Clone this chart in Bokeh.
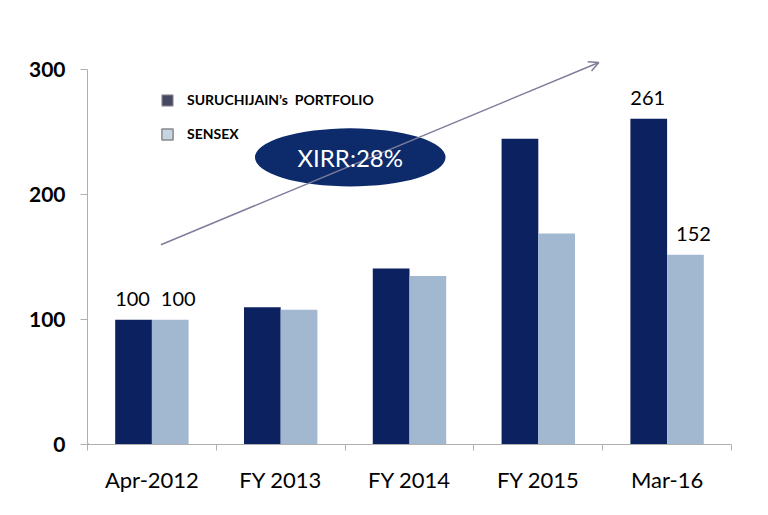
from bokeh.plotting import figure
from bokeh.models import (Range1d, FixedTicker, ColumnDataSource, Legend, LegendItem,
                          Arrow, OpenHead, LabelSet, Label)
from bokeh.core.properties import value
from bokeh.transform import dodge
from bokeh.embed import file_html
from bokeh.resources import INLINE

categories = ["Apr-2012", "FY 2013", "FY 2014", "FY 2015", "Mar-16"]
portfolio = [100, 110, 141, 245, 261]
sensex = [100, 108, 135, 169, 152]
y_ticks = [0, 100, 200, 300]
series_names = ["SURUCHIJAIN\u2019s  PORTFOLIO", "SENSEX"]
xirr_text = "XIRR:28%"

FONT = "Lato"
DARK = "#0b2160"
LIGHT = "#a2b8d0"

xpos = [i + 0.5 for i in range(len(categories))]
src = ColumnDataSource(dict(x=xpos, port=portfolio, sens=sensex))

p = figure(width=760, height=507, output_backend="svg", toolbar_location=None,
           x_range=Range1d(0, len(categories)), y_range=Range1d(0, 310),
           min_border_left=87, min_border_right=29, min_border_top=57, min_border_bottom=63)
p.outline_line_color = None
p.grid.visible = False
p.background_fill_color = "white"

bw = 0.285
p.vbar(x=dodge("x", -bw / 2, range=p.x_range), top="port", width=bw, bottom=0,
       source=src, fill_color=DARK, line_color=None)
p.vbar(x=dodge("x", bw / 2, range=p.x_range), top="sens", width=bw, bottom=0,
       source=src, fill_color=LIGHT, line_color=None)

# axes
p.xaxis.ticker = FixedTicker(ticks=xpos, minor_ticks=list(range(len(categories) + 1)))
p.xaxis.major_label_overrides = {x: c for x, c in zip(xpos, categories)}
p.xaxis.major_tick_out = 0
p.xaxis.major_tick_in = 0
p.xaxis.minor_tick_out = 6
p.xaxis.minor_tick_in = 0
p.xaxis.minor_tick_line_color = "#b0b0b0"
p.xaxis.axis_line_color = "#b0b0b0"
p.xaxis.major_label_text_font = FONT
p.xaxis.major_label_text_font_size = "22px"
p.xaxis.major_label_text_color = "black"
p.xaxis.major_label_standoff = 15

p.yaxis.ticker = FixedTicker(ticks=y_ticks)
p.yaxis.bounds = (0, 300)
p.yaxis.minor_tick_line_color = None
p.yaxis.major_tick_out = 7
p.yaxis.major_tick_in = 0
p.yaxis.major_tick_line_color = "#b0b0b0"
p.yaxis.axis_line_color = "#b0b0b0"
p.yaxis.major_label_text_font = FONT
p.yaxis.major_label_text_font_size = "21px"
p.yaxis.major_label_text_font_style = "bold"
p.yaxis.major_label_text_color = "black"
p.yaxis.major_label_standoff = 15

# data labels on first and last category
lab_idx = [0, len(categories) - 1]
port_lab = ColumnDataSource(dict(
    x=[xpos[i] - bw / 2 for i in lab_idx],
    y=[portfolio[i] for i in lab_idx],
    t=[str(portfolio[i]) for i in lab_idx],
))
sens_lab = ColumnDataSource(dict(
    x=[xpos[i] + bw / 2 for i in lab_idx],
    y=[sensex[i] for i in lab_idx],
    t=[str(sensex[i]) for i in lab_idx],
))
p.add_layout(LabelSet(x="x", y="y", text="t", source=port_lab, text_align="center",
                      text_baseline="bottom", y_offset=14, x_offset=-1, text_font=value(FONT),
                      text_font_size=value("20px"), text_color=value("black")))
p.add_layout(LabelSet(x="x", y="y", text="t", source=sens_lab, text_align="center",
                      text_baseline="bottom", y_offset=14, x_offset=8, text_font=value(FONT),
                      text_font_size=value("20px"), text_color=value("black")))

# trend arrow
p.add_layout(Arrow(x_start=0.57, y_start=160, x_end=3.97, y_end=306,
                   line_color="#7e7e9c", line_width=1.5,
                   end=OpenHead(size=10, line_color="#7e7e9c", line_width=1.5)))

# XIRR ellipse
p.ellipse(x=[2.04], y=[230], width=1.48, height=46.5, fill_color="#0d2a6b", line_color=None)
p.add_layout(Label(x=2.04, y=230, text=xirr_text, text_align="center", text_baseline="middle",
                   text_font=FONT, text_font_size="24px", text_color="white"))

# legend (marks placed far outside the visible range, used only for the legend swatches)
r1 = p.vbar(x=[-10], top=[1], width=0.1, fill_color="#474862", line_color="#9a9a9a", line_width=1)
r2 = p.vbar(x=[-10], top=[1], width=0.1, fill_color="#c6d4e4", line_color="#8a8a8a", line_width=1.5)
legend = Legend(items=[LegendItem(label=series_names[0], renderers=[r1]),
                       LegendItem(label=series_names[1], renderers=[r2])],
                location=(73, 302), orientation="vertical",
                glyph_width=14, glyph_height=14, label_height=14, spacing=17,
                label_standoff=13, padding=0, margin=0, border_line_color=None,
                background_fill_alpha=0, label_text_font=FONT,
                label_text_font_size="14px", label_text_font_style="bold",
                label_text_color="black")
p.add_layout(legend)

open("out.html", "w").write(file_html(p, INLINE))
